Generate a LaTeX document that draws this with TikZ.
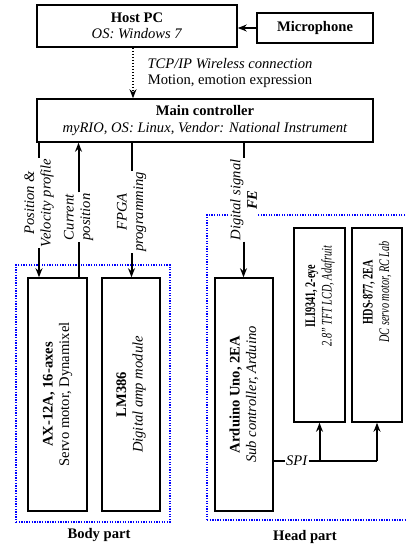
\documentclass[tikz,border=0pt]{standalone}
\usepackage{fontspec}
\setmainfont{Liberation Serif}
\usetikzlibrary{arrows.meta,positioning}

\newcommand{\squeezed}[1]{\scalebox{0.7}[1]{\begin{tabular}{@{}c@{}}#1\end{tabular}}}

\begin{document}
\begin{tikzpicture}[x=1pt,y=-1pt,
  font=\fontsize{14.6}{16.5}\selectfont,
  box/.style={draw,line width=1.6pt,inner sep=0pt},
  txt/.style={align=center,inner sep=1pt},
  vtxt/.style={rotate=90,align=center,inner sep=1pt},
  wire/.style={line width=2pt},
  arr/.style={wire,-{Stealth[length=9pt,width=7pt,inset=3pt]}},
  part/.style={draw=blue,line width=2pt,dash pattern=on 1.3pt off 1.3pt,inner sep=0pt}]
  \useasboundingbox (0,0) rectangle (405,547);

  % part frames
  \node[part,minimum width=154pt,minimum height=257pt] (body) at (93,393.5) {};
  \node[part,minimum width=200pt,minimum height=305pt] (head) at (307,367.5) {};
  \node[txt] (bodyL) at (99,535) {\textbf{Body part}};
  \node[txt] (headL) at (305,537) {\textbf{Head part}};

  % top row
  \node[box,minimum width=200pt,minimum height=42pt,align=center] (host) at (137,26)
    {\textbf{Host PC}\\\textit{OS: Windows 7}};
  \node[box,minimum width=116pt,minimum height=30pt] (mic) at (315,28) {\textbf{Microphone}};
  \node[box,minimum width=336pt,minimum height=43pt,align=center] (main) at (205,120.5)
    {\textbf{Main controller}\\\textit{myRIO, OS: Linux, Vendor: National Instrument}};
  \node[txt] (tcp) at (230,73) {\textit{TCP/IP Wireless connection}\\Motion, emotion expression};
  \coordinate (wl) at (133,73);

  \draw[arr] (mic.west) -- (mic.west -| host.east);
  \draw[arr,line width=2.4pt,dash pattern=on 1.5pt off 1.5pt] (host.south -| wl) -- (main.north -| wl);

  % modules
  \node[box,minimum width=59pt,minimum height=233pt] (ax) at (57.5,394.5) {};
  \node[box,minimum width=58pt,minimum height=233pt] (lm) at (131,394.5) {};
  \node[box,minimum width=58pt,minimum height=233pt] (ard) at (244,394.5) {};
  \node[box,minimum width=51pt,minimum height=194pt] (ili) at (319.5,325) {};
  \node[box,minimum width=50pt,minimum height=194pt] (hds) at (377,325) {};

  \node[vtxt] (axT) at (ax.center) {\textbf{AX-12A, 16-axes}\\Servo motor, Dynamixel};
  \node[vtxt] (lmT) at (lm.center) {\textbf{LM386}\\\textit{Digital amp module}};
  \node[vtxt] (ardT) at (ard.center) {\textbf{Arduino Uno, 2EA}\\\textit{Sub controller, Arduino}};
  \node[vtxt] (iliT) at (320,296) {\squeezed{\textbf{ILI9341, 2-eye}\\\textit{2.8'' TFT LCD, Adafruit}}};
  \node[vtxt] (hdsT) at (377.5,292) {\squeezed{\textbf{HDS-877, 2EA}\\\textit{DC servo motor, RC Lab}}};

  % signal labels
  \node[vtxt] (pos) at (39,203) {\textit{Position \&}\\\textit{Velocity profile}};
  \node[vtxt] (cur) at (78.5,217) {\textit{Current}\\\textit{position}};
  \node[vtxt] (fpga) at (131.5,212) {\textit{FPGA}\\\textit{programming}};
  \node[vtxt,fill=white] (dig) at (243.5,200) {\textit{Digital signal}\\\textbf{\textit{FE}}};

  \draw[wire] (main.south -| pos.east) -- (pos.east);
  \draw[arr] (pos.west) -- (ax.north -| pos.west);
  \draw[arr] (cur.east) -- (main.south -| cur.east);
  \draw[wire] (ax.north -| cur.west) -- (cur.west);
  \draw[wire] (main.south -| fpga.east) -- (fpga.east);
  \draw[arr] (fpga.west) -- (lm.north -| fpga.west);
  \draw[wire] (main.south -| dig.east) -- (dig.east);
  \draw[arr] (dig.west) -- (ard.north -| dig.west);

  % SPI bus
  \node[txt,fill=white,inner sep=0.5pt] (spi) at (297,461) {\textit{SPI}};
  \draw[wire] (ard.east |- spi) -- (spi.west);
  \draw[wire] (spi.east) -- (hds.south |- spi);
  \draw[arr] (hds.south |- spi) -- (hds.south);
  \draw[arr] (ili.south |- spi) -- (ili.south);
\end{tikzpicture}
\end{document}
